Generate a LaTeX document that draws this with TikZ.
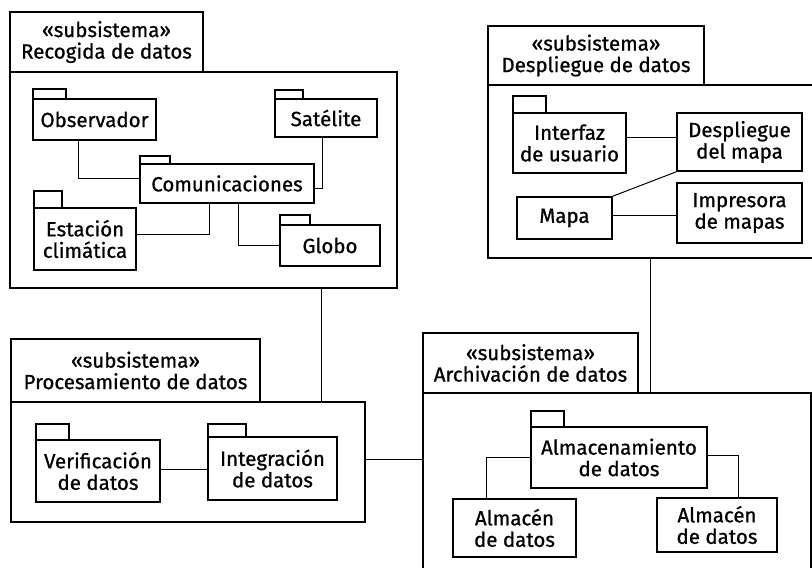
\documentclass[tikz,border=0pt]{standalone}
\usepackage{fontspec}
\setmainfont[FakeBold=0.8]{Fira Sans}
\usetikzlibrary{fit}
\tikzset{
  box/.style={draw, line width=1.7pt, inner sep=0pt},
  lbl/.style={align=center, inner sep=0pt, font=\fontsize{20.5}{21.5}\selectfont},
  tabbox/.style={draw, line width=1.7pt, inner sep=0pt},
  conn/.style={draw, line width=1pt},
}
\newcommand\pkg[4]{\node[box, fill=white, fit={#2}, label={[lbl]center:#4}, #3] (#1) {};}
\begin{document}
\begin{tikzpicture}[x=1pt, y=-1pt]
\useasboundingbox (0,0) rectangle (812,568);
\clip (0,0) rectangle (812,568);
% ---------- Recogida de datos ----------
\pkg{rmain}{(10,72) (397,288)}{}{}
\pkg{rtab}{(10,12) (203,72)}{}{«subsistema»\\Recogida de datos}
\node[tabbox, fit={(33,89) (66,99)}] (obst) {};
\pkg{obs}{(33,99) (156,140)}{}{Observador}
\node[tabbox, fit={(275,90) (303,99)}] (satt) {};
\pkg{sat}{(275,99) (377,137)}{}{Satélite}
\node[tabbox, fit={(140,156) (170,164)}] (comt) {};
\pkg{com}{(140,164) (314,203)}{}{Comunicaciones}
\node[tabbox, fit={(34,191) (62,208)}] (estt) {};
\pkg{est}{(34,208) (136,270)}{}{Estación\\climática}
\node[tabbox, fit={(280,215) (310,225)}] (glot) {};
\pkg{glo}{(280,225) (380,266)}{}{Globo}
\draw[conn] ([xshift=-16.5pt]obs.south) |- ([yshift=5.5pt]com.west);
\draw[conn] ([xshift=-4pt]sat.south) |- ([yshift=-4.5pt]com.east);
\draw[conn] ([xshift=-18pt]com.south) |- ([yshift=5pt]est.east);
\draw[conn] ([xshift=11pt]com.south) |- (glo.west);
% ---------- Procesamiento de datos ----------
\pkg{pmain}{(11,402) (365,522)}{}{}
\pkg{ptab}{(11,339) (260,402)}{}{«subsistema»\\Procesamiento de datos}
\node[tabbox, fit={(36,424) (69,440)}] (vert) {};
\pkg{ver}{(36,440) (160,502)}{}{Verificación\\de datos}
\node[tabbox, fit={(208,424) (246,437)}] (intt) {};
\pkg{int}{(208,437) (337,500)}{}{Integración\\de datos}
\draw[conn] ([yshift=2pt]ver.east) -- ([yshift=2pt]ver.east -| int.west);
% ---------- Archivación de datos ----------
\pkg{amain}{(423,393) (811,600)}{}{}
\pkg{atab}{(423,333) (638,393)}{}{«subsistema»\\Archivación de datos}
\node[tabbox, fit={(531,411) (564,427)}] (almt) {};
\pkg{alm}{(531,427) (707,488)}{}{Almacenamiento\\de datos}
\pkg{al1}{(453,499) (576,557)}{}{Almacén\\de datos}
\pkg{al2}{(657,498) (777,552)}{}{Almacén\\de datos}
\draw[conn] ([xshift=-28.5pt]al1.north) |- (alm.west);
\draw[conn] ([yshift=2.5pt]alm.east) -| ([xshift=21pt]al2.north);
% ---------- Despliegue de datos ----------
\pkg{dmain}{(488,85) (818,258)}{}{}
\pkg{dtab}{(488,26) (704,85)}{}{«subsistema»\\Despliegue de datos}
\node[tabbox, fit={(513,96) (546,113)}] (uit) {};
\pkg{ui}{(513,113) (626,173)}{}{Interfaz\\de usuario}
\pkg{dm}{(677,113) (802,171)}{}{Despliegue\\del mapa}
\pkg{mapa}{(517,197) (612,239)}{}{Mapa}
\pkg{imp}{(677,183) (802,243)}{}{Impresora\\de mapas}
\draw[conn] ([yshift=6pt]ui.east) -- ([yshift=6pt]ui.east -| dm.west);
\draw[conn] (mapa.north east) -- (dm.south west);
\draw[conn] ([yshift=3pt]mapa.east) -- ([yshift=3pt]mapa.east -| imp.west);
% ---------- links between subsystems ----------
\draw[conn] ([xshift=117.5pt]rmain.south) -- ([xshift=117.5pt]rmain.south |- pmain.north);
\draw[conn] ([yshift=3pt]pmain.east) -- ([yshift=3pt]pmain.east -| amain.west);
\draw[conn] ([xshift=-3pt]dmain.south) -- ([xshift=-3pt]dmain.south |- amain.north);
\end{tikzpicture}
\end{document}
